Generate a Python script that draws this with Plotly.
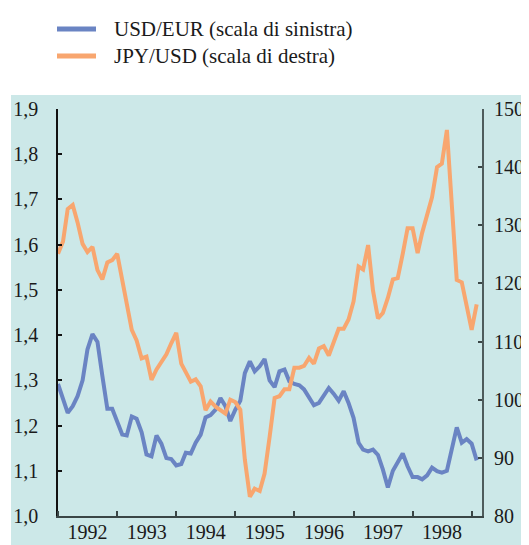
import pandas as pd
import plotly.graph_objects as go

months = pd.date_range("1992-01-01", "1999-02-01", freq="MS")

usd_eur = [
    1.292, 1.260, 1.228, 1.243, 1.265, 1.300, 1.368, 1.402, 1.385, 1.310, 1.237, 1.237,
    1.210, 1.180, 1.178, 1.220, 1.215, 1.185, 1.136, 1.132, 1.178, 1.160, 1.128, 1.126,
    1.112, 1.115, 1.140, 1.138, 1.162, 1.180, 1.218, 1.223, 1.235, 1.261, 1.243, 1.210,
    1.235, 1.255, 1.316, 1.342, 1.320, 1.331, 1.347, 1.300, 1.285, 1.320, 1.324, 1.298,
    1.292, 1.289, 1.280, 1.263, 1.245, 1.250, 1.268, 1.283, 1.270, 1.255, 1.276, 1.250,
    1.217, 1.162, 1.147, 1.143, 1.147, 1.135, 1.103, 1.063, 1.100, 1.118, 1.138, 1.110,
    1.086, 1.086, 1.081, 1.090, 1.107, 1.099, 1.096, 1.100, 1.151, 1.196, 1.162, 1.170,
    1.160, 1.123,
]

jpy_usd = [
    125.1, 127.2, 132.8, 133.5, 130.5, 126.8, 125.4, 126.3, 122.3, 120.7, 123.6, 124.0,
    125.1, 120.3, 116.3, 112.0, 110.2, 107.1, 107.4, 103.4, 105.2, 106.6, 107.8, 109.7,
    111.5, 106.2, 104.8, 103.1, 103.5, 102.3, 98.2, 99.7, 98.8, 98.3, 97.6, 100.0,
    99.6, 98.3, 89.7, 83.3, 84.7, 84.3, 87.3, 93.6, 100.3, 100.6, 101.8, 101.8,
    105.5, 105.5, 105.8, 107.2, 106.2, 108.8, 109.2, 107.6, 109.8, 112.2, 112.2, 113.8,
    116.9, 122.9, 122.4, 126.6, 118.8, 114.0, 114.9, 117.5, 120.7, 120.9, 125.1, 129.5,
    129.5, 125.2, 128.7, 131.6, 134.8, 140.0, 140.6, 146.4, 134.0, 120.6, 120.2, 116.5,
    112.0, 116.4,
]

series_names = ["USD/EUR (scala di sinistra)", "JPY/USD (scala di destra)"]
left_ticks = [1.0, 1.1, 1.2, 1.3, 1.4, 1.5, 1.6, 1.7, 1.8, 1.9]
right_ticks = [80, 90, 100, 110, 120, 130, 140, 150]

BLUE = "#6a84c3"
ORANGE = "#f8a66f"
BG = "#cce8e8"
FONT = "Liberation Serif"
TXT = "#1a1a1a"

# the page body adds an 8px offset, so the figure is 8px smaller
OFF = 8
W, H = 529 - OFF, 545 - OFF
ML, MR, MT, MB = 58 - OFF, 47, 109 - OFF, 29
PW, PH = W - ML - MR, H - MT - MB


def px(x_page):
    return (x_page - OFF - ML) / PW


def py(y_page):
    return 1 - (y_page - OFF - MT) / PH


fig = go.Figure()
fig.add_trace(go.Scatter(x=months, y=usd_eur, mode="lines", name=series_names[0],
                         line=dict(color=BLUE, width=4), yaxis="y", showlegend=False))
fig.add_trace(go.Scatter(x=months, y=jpy_usd, mode="lines", name=series_names[1],
                         line=dict(color=ORANGE, width=4), yaxis="y2", showlegend=False))

# teal panel behind the chart
fig.add_shape(type="rect", xref="paper", yref="paper", x0=px(11), x1=px(545),
              y0=py(560), y1=py(95), fillcolor=BG, line=dict(width=0), layer="below")

# legend (drawn manually so that it does not push the margins)
for name, color, ly in [(series_names[0], BLUE, 29), (series_names[1], ORANGE, 56)]:
    fig.add_shape(type="line", xref="paper", yref="paper", x0=px(57), x1=px(96),
                  y0=py(ly), y1=py(ly), line=dict(color=color, width=5))
    fig.add_annotation(xref="paper", yref="paper", x=px(112), y=py(ly), text=name,
                       showarrow=False, xanchor="left", yanchor="middle",
                       font=dict(family=FONT, size=21, color=TXT))

fig.update_layout(
    width=W, height=H,
    margin=dict(l=ML, r=MR, t=MT, b=MB, autoexpand=False),
    paper_bgcolor="white", plot_bgcolor=BG,
    separators=",.",
    font=dict(family=FONT, size=20, color=TXT),
    showlegend=False,
    xaxis=dict(type="date", range=["1992-01-01", "1999-03-06"], automargin=False,
               dtick="M12", tick0="1992-01-01", ticklabelmode="period",
               tickformat="%Y", ticks="inside", ticklen=5, tickwidth=1.5,
               tickcolor="#3a4646", showline=True, linecolor="#3a4646", linewidth=2,
               showgrid=False, zeroline=False, ticklabelstandoff=-3,
               tickfont=dict(size=20, family=FONT)),
    yaxis=dict(range=[1.0, 1.9], tickvals=left_ticks, tickformat=".1f", automargin=False,
               ticks="inside", ticklen=4, tickwidth=1.5, tickcolor="#111",
               showline=True, linecolor="#111", linewidth=1.5,
               showgrid=False, zeroline=False, ticklabelstandoff=14,
               tickfont=dict(size=20, family=FONT)),
    yaxis2=dict(range=[80, 150], tickvals=right_ticks, overlaying="y", side="right",
                automargin=False, anchor="x",
                ticks="inside", ticklen=4, tickwidth=1.5, tickcolor="#3a4646",
                showline=True, linecolor="#4e5c5c", linewidth=2,
                showgrid=False, zeroline=False, ticklabelstandoff=6,
                tickfont=dict(size=20, family=FONT)),
)

fig.write_html("out.html")
